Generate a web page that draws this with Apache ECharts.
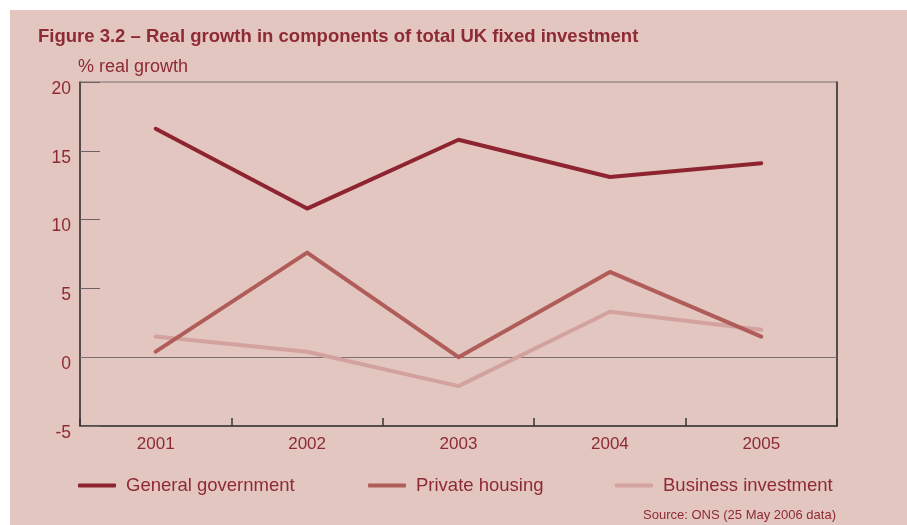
<!DOCTYPE html>
<html>
<head>
<meta charset="utf-8">
<script src="https://cdn.jsdelivr.net/npm/echarts@6/dist/echarts.min.js"></script>
<style>
  html, body { margin: 0; padding: 0; background: #ffffff; }
  #chart { position: absolute; left: 10px; top: 10px; width: 897px; height: 515px; }
</style>
</head>
<body>
<div id="chart"></div>
<script>
// Real growth in UK fixed investment components, % per year
const years = ['2001', '2002', '2003', '2004', '2005'];
const generalGovernment = [16.6, 10.8, 15.8, 13.1, 14.1];
const privateHousing = [0.4, 7.6, 0.0, 6.2, 1.5];
const businessInvestment = [1.5, 0.4, -2.1, 3.3, 2.0];
const yTicks = { min: -5, max: 20, interval: 5 };

const textRed = '#8e2a33';
const font = '"Liberation Sans", Arial, Helvetica, sans-serif';
const colors = ['#8e2430', '#b05c59', '#d4a29e'];
const names = ['General government', 'Private housing', 'Business investment'];
const legendLeft = [63, 353, 600];

const chart = echarts.init(document.getElementById('chart'));

function lineSeries(name, data, color, extra) {
  return Object.assign({
    name: name,
    type: 'line',
    data: data,
    symbol: 'none',
    silent: true,
    z: 3,
    lineStyle: { color: color, width: 4, cap: 'round', join: 'round' },
    itemStyle: { color: color }
  }, extra || {});
}

chart.setOption({
  backgroundColor: '#e3c6c0',
  animation: false,
  textStyle: { fontFamily: font },
  title: [
    {
      text: 'Figure 3.2 – Real growth in components of total UK fixed investment',
      left: 23, top: 12,
      textStyle: { fontFamily: font, fontSize: 18.5, fontWeight: 'bold', color: textRed }
    },
    {
      text: 'Source: ONS (25 May 2006 data)',
      right: 66, top: 494,
      textStyle: { fontFamily: font, fontSize: 13, fontWeight: 'normal', color: textRed }
    }
  ],
  legend: names.map((n, i) => ({
    data: [n],
    left: legendLeft[i],
    top: 461,
    icon: 'roundRect',
    itemWidth: 38,
    itemHeight: 4,
    itemGap: 0,
    textStyle: { fontFamily: font, fontSize: 18.5, color: textRed, padding: [0, 0, 0, 5] },
    selectedMode: false
  })),
  grid: {
    left: 70, right: 70, top: 72, bottom: 99,
    show: true,
    backgroundColor: 'transparent',
    borderColor: '#7d6e6e',
    borderWidth: 1
  },
  xAxis: {
    type: 'category',
    data: years,
    boundaryGap: true,
    axisLine: { show: true, onZero: false, lineStyle: { color: '#3a3333', width: 1.5 } },
    axisTick: { show: true, inside: true, alignWithLabel: false, interval: 0, length: 8, lineStyle: { color: '#3a3333', width: 1.5 } },
    axisLabel: { fontFamily: font, fontSize: 17, color: textRed, margin: 10 },
    splitLine: { show: false }
  },
  yAxis: [
    {
      type: 'value',
      min: yTicks.min, max: yTicks.max, interval: yTicks.interval,
      name: '% real growth',
      nameLocation: 'end',
      nameGap: 6,
      nameTextStyle: { fontFamily: font, fontSize: 18, color: textRed, align: 'left', padding: [0, 0, 0, -2] },
      axisLine: { show: true, lineStyle: { color: '#3a3333', width: 1.5 } },
      axisTick: { show: true, inside: true, length: 20, lineStyle: { color: '#6e6262', width: 1 } },
      axisLabel: { fontFamily: font, fontSize: 17.5, color: textRed, margin: 9, verticalAlign: 'top', lineHeight: 14 },
      splitLine: { show: false }
    },
    {
      type: 'value',
      min: yTicks.min, max: yTicks.max, interval: yTicks.interval,
      position: 'right',
      axisLine: { show: true, lineStyle: { color: '#333333', width: 1.5 } },
      axisTick: { show: false },
      axisLabel: { show: false },
      splitLine: { show: false }
    }
  ],
  series: [
    lineSeries(names[2], businessInvestment, colors[2], {
      markLine: {
        silent: true,
        symbol: 'none',
        label: { show: false },
        lineStyle: { color: '#7d7070', width: 1, type: 'solid' },
        data: [{ yAxis: 0 }],
        z: 1
      }
    }),
    lineSeries(names[1], privateHousing, colors[1]),
    lineSeries(names[0], generalGovernment, colors[0])
  ]
});
</script>
</body>
</html>
